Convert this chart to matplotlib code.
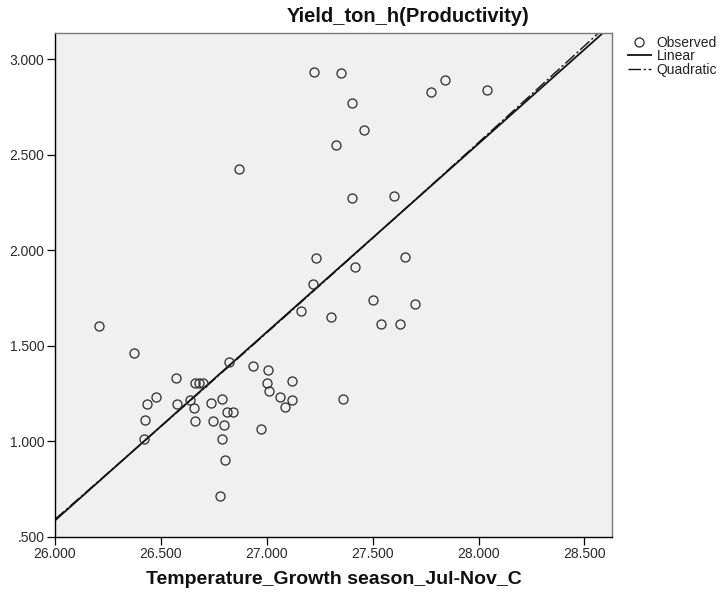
import numpy as np
import matplotlib
matplotlib.use("Agg")
import matplotlib.pyplot as plt
from matplotlib.ticker import FuncFormatter, FixedLocator

# ---- data ----
temperature = [
    26.210, 26.374, 26.572, 26.662, 26.682, 26.701, 26.824, 26.476, 26.437, 26.578,
    26.638, 26.657, 26.426, 26.423, 26.662, 26.739, 26.788, 26.811, 26.842, 26.748,
    26.800, 26.788, 26.805, 26.780, 26.937, 27.005, 27.000, 27.012, 27.121, 27.061,
    27.118, 27.088, 26.972, 27.361,
    27.223, 27.350, 27.401, 27.459, 27.327, 26.871, 27.778, 27.842, 28.038, 27.404,
    27.602,
    27.231, 27.651, 27.418, 27.220, 27.162, 27.303, 27.500, 27.698, 27.538, 27.630,
]
yield_ton_h = [
    1.603, 1.463, 1.332, 1.303, 1.303, 1.303, 1.413, 1.233, 1.193, 1.193,
    1.214, 1.172, 1.113, 1.013, 1.104, 1.202, 1.221, 1.153, 1.153, 1.104,
    1.083, 1.013, 0.903, 0.715, 1.394, 1.373, 1.303, 1.263, 1.314, 1.233,
    1.214, 1.181, 1.064, 1.223,
    2.935, 2.929, 2.771, 2.631, 2.551, 2.424, 2.827, 2.890, 2.837, 2.272,
    2.285,
    1.959, 1.963, 1.912, 1.823, 1.682, 1.652, 1.738, 1.718, 1.612, 1.612,
]
# The drawn quadratic curve lies almost on the linear fit; its small
# departures from the linear line at three temperatures.
quad_read_x = [26.0, 27.3, 28.55]
quad_read_offset = [0.006, -0.003, 0.02]

x_ticks = [26.0, 26.5, 27.0, 27.5, 28.0, 28.5]
y_ticks = [0.5, 1.0, 1.5, 2.0, 2.5, 3.0]
x_limits = (26.0, 28.63)
y_limits = (0.5, 3.139)
title = "Yield_ton_h(Productivity)"
x_label = "Temperature_Growth season_Jul-Nov_C"
legend_labels = ["Observed", "Linear", "Quadratic"]

plt.rcParams['font.family'] = ['Liberation Sans', 'DejaVu Sans']

x = np.array(temperature)
y = np.array(yield_ton_h)

fig = plt.figure(figsize=(7.21, 5.93), dpi=100)
W, H = 721, 593
ax = fig.add_axes([54.7 / W, 1 - 536.6 / H, (612 - 54.7) / W, (536.6 - 32.6) / H])
ax.set_facecolor('#f0f0f0')

pts, = ax.plot(x, y, linestyle='none', marker='o', markersize=6.5,
               markerfacecolor='none', markeredgecolor='#333333',
               markeredgewidth=0.95, label=legend_labels[0], zorder=3)

xs = np.linspace(x_limits[0], x_limits[1], 300)
lin_coef = np.polyfit(x, y, 1)
qx = np.array(quad_read_x)
quad_coef = np.polyfit(qx, np.polyval(lin_coef, qx) + np.array(quad_read_offset), 2)

lin, = ax.plot(xs, np.polyval(lin_coef, xs), color='#111111', lw=1.3,
               label=legend_labels[1], zorder=2)
quad, = ax.plot(xs, np.polyval(quad_coef, xs), color='#111111', lw=1.0,
                dashes=(9, 2, 1.5, 2), label=legend_labels[2], zorder=2)

ax.set_xlim(*x_limits)
ax.set_ylim(*y_limits)
ax.xaxis.set_major_locator(FixedLocator(x_ticks))
ax.yaxis.set_major_locator(FixedLocator(y_ticks))


def fmt(v, pos):
    s = f"{v:.3f}"
    if s.startswith("0."):
        s = s[1:]
    return s


ax.xaxis.set_major_formatter(FuncFormatter(fmt))
ax.yaxis.set_major_formatter(FuncFormatter(fmt))
ax.tick_params(axis='both', direction='out', length=5.5, width=0.9,
               color='#000000', labelsize=10, labelcolor='#2a2a2a', pad=2)

for side in ('left', 'bottom'):
    ax.spines[side].set_color('#000000')
    ax.spines[side].set_linewidth(1.0)
for side in ('top', 'right'):
    ax.spines[side].set_color('#7a7a7a')
    ax.spines[side].set_linewidth(1.0)

ax.set_xlabel(x_label, fontsize=14, fontweight='bold', color='#111111')
ax.xaxis.set_label_coords((334 - 54.7) / (612 - 54.7), (536.6 - 580) / (536.6 - 32.6))
ax.xaxis.label.set_va('center')

fig.text(408 / W, 1 - 17 / H, title, ha='center', va='center',
         fontsize=14.5, fontweight='bold', color='#111111')

leg = ax.legend(handles=[pts, lin, quad], loc='upper left',
                bbox_to_anchor=(628 / W, 1 - 36 / H),
                bbox_transform=fig.transFigure, frameon=False,
                fontsize=10, handlelength=1.65, handletextpad=0.4,
                labelspacing=-0.05, borderaxespad=0, borderpad=0)
for t in leg.get_texts():
    t.set_color('#222222')

fig.savefig("out.png", dpi=100)
